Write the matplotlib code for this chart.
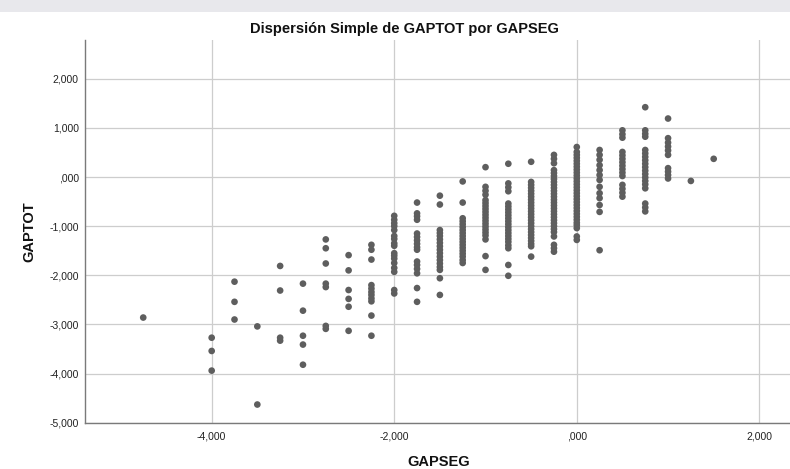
import matplotlib
matplotlib.use("Agg")
import matplotlib.pyplot as plt
from matplotlib.ticker import FuncFormatter, FixedLocator
from matplotlib.patches import Rectangle

plt.rcParams['font.family'] = ['Liberation Sans', 'DejaVu Sans']

title = "Dispersión Simple de GAPTOT por GAPSEG"
x_label = "GAPSEG"
y_label = "GAPTOT"

gapseg_levels = [-4.75, -4.00, -3.75, -3.50, -3.25, -3.00, -2.75, -2.50, -2.25,
                 -2.00, -1.75, -1.50, -1.25, -1.00, -0.75, -0.50, -0.25, 0.00,
                 0.25, 0.50, 0.75, 1.00, 1.25, 1.50]

gaptot_groups = [
    [-2.86],
    [-3.27, -3.54, -3.94],
    [-2.13, -2.54, -2.90],
    [-3.04, -4.63],
    [-1.81, -2.31, -3.27, -3.33],
    [-2.17, -2.72, -3.23, -3.41, -3.82],
    [-1.27, -1.45, -1.76, -2.17, -2.24, -3.03, -3.09],
    [-1.59, -1.90, -2.30, -2.48, -2.64, -3.13],
    [-1.38, -1.48, -1.68, -2.20, -2.27, -2.34, -2.40, -2.47, -2.53, -2.82, -3.23],
    [-0.79, -0.87, -0.94, -1.00, -1.08, -1.20, -1.26, -1.35, -1.40, -1.55, -1.60,
     -1.66, -1.75, -1.85, -1.93, -2.30, -2.37],
    [-0.52, -0.74, -0.80, -0.87, -1.15, -1.22, -1.29, -1.36, -1.43, -1.48, -1.72,
     -1.79, -1.87, -1.96, -2.26, -2.54],
    [-0.38, -0.56, -1.08, -1.14, -1.20, -1.27, -1.34, -1.41, -1.48, -1.55, -1.62,
     -1.69, -1.76, -1.83, -1.89, -2.06, -2.40],
    [-0.09, -0.52, -0.84, -0.90, -0.96, -1.02, -1.08, -1.14, -1.20, -1.26, -1.32,
     -1.38, -1.44, -1.50, -1.56, -1.62, -1.69, -1.75],
    [0.20, -0.20, -0.28, -0.36, -0.47, -0.53, -0.59, -0.65, -0.71, -0.77, -0.83,
     -0.89, -0.95, -1.01, -1.07, -1.13, -1.19, -1.27, -1.61, -1.89],
    [0.27, -0.13, -0.21, -0.29, -0.54, -0.60, -0.66, -0.72, -0.78, -0.84, -0.90,
     -0.96, -1.02, -1.08, -1.14, -1.20, -1.26, -1.32, -1.39, -1.45, -1.79, -2.01],
    [0.31, -0.10, -0.16, -0.22, -0.28, -0.34, -0.40, -0.46, -0.52, -0.58, -0.64,
     -0.70, -0.76, -0.82, -0.88, -0.94, -1.00, -1.06, -1.12, -1.18, -1.24, -1.30,
     -1.36, -1.41, -1.62],
    [0.45, 0.37, 0.28, 0.14, 0.08, 0.02, -0.04, -0.10, -0.16, -0.22, -0.28, -0.34,
     -0.40, -0.46, -0.52, -0.58, -0.64, -0.70, -0.76, -0.82, -0.88, -0.94, -1.00,
     -1.06, -1.12, -1.21, -1.38, -1.45, -1.52],
    [0.61, 0.51, 0.45, 0.39, 0.33, 0.27, 0.21, 0.15, 0.09, 0.03, -0.03, -0.09,
     -0.15, -0.21, -0.27, -0.33, -0.39, -0.45, -0.51, -0.57, -0.63, -0.69, -0.75,
     -0.81, -0.87, -0.93, -0.98, -1.04, -1.21, -1.28],
    [0.55, 0.45, 0.35, 0.24, 0.14, 0.04, -0.06, -0.20, -0.33, -0.43, -0.57, -0.71,
     -1.49],
    [0.95, 0.87, 0.80, 0.51, 0.44, 0.37, 0.30, 0.23, 0.16, 0.09, 0.02, -0.16,
     -0.24, -0.32, -0.40],
    [1.42, 0.95, 0.88, 0.82, 0.55, 0.48, 0.41, 0.34, 0.27, 0.20, 0.13, 0.06,
     -0.01, -0.08, -0.15, -0.23, -0.54, -0.62, -0.70],
    [1.19, 0.79, 0.70, 0.62, 0.54, 0.45, 0.18, 0.11, 0.04, -0.03],
    [-0.08],
    [0.37],
]

x_ticks = [-4, -2, 0, 2]
y_ticks = [2, 1, 0, -1, -2, -3, -4, -5]

xs, ys = [], []
for lvl, grp in zip(gapseg_levels, gaptot_groups):
    for v in grp:
        xs.append(lvl)
        ys.append(v)


def spss_fmt(v, pos=None):
    s = f"{abs(v):.3f}".replace('.', ',')
    if s.startswith('0,'):
        s = s[1:]
    if v < 0 and abs(v) > 1e-9:
        s = '-' + s
    return s


W, H = 790, 469
fig = plt.figure(figsize=(W / 100, H / 100), dpi=100)
fig.patch.set_facecolor('white')
fig.patches.append(Rectangle((0, 1 - 12 / H), 1, 12 / H, transform=fig.transFigure,
                             facecolor='#e8e8ec', edgecolor='none', zorder=0))

ax = fig.add_axes([85 / W, 1 - 423 / H, (790 - 85) / W, (423 - 40) / H])
ax.set_facecolor('white')
ax.scatter(xs, ys, s=23, color='#5e5e5e', edgecolors='none', zorder=3)

ax.set_xlim(-5.388, 2.336)
ax.set_ylim(-5.006, 2.788)
ax.xaxis.set_major_locator(FixedLocator(x_ticks))
ax.yaxis.set_major_locator(FixedLocator(y_ticks))
ax.xaxis.set_major_formatter(FuncFormatter(spss_fmt))
ax.yaxis.set_major_formatter(FuncFormatter(spss_fmt))
ax.tick_params(axis='both', length=0, labelsize=7.5, colors='#222222')
ax.tick_params(axis='x', pad=6)
ax.tick_params(axis='y', pad=4.5)

ax.grid(True, color='#cdcdcd', linewidth=0.9, zorder=0)
ax.set_axisbelow(True)
for side in ['top', 'right']:
    ax.spines[side].set_visible(False)
for side in ['left', 'bottom']:
    ax.spines[side].set_color('#7a7a7a')
    ax.spines[side].set_linewidth(1.0)

fig.text(404 / W, 1 - 28.5 / H, title, ha='center', va='center',
         fontsize=10.5, fontweight='bold', color='#111111')
fig.text(439 / W, 1 - 461.5 / H, x_label, ha='center', va='center',
         fontsize=10.5, fontweight='bold', color='#111111')
fig.text(29 / W, 1 - 232 / H, y_label, ha='center', va='center', rotation=90,
         fontsize=10.5, fontweight='bold', color='#111111')

fig.savefig('out.png', dpi=100, facecolor=fig.get_facecolor())
